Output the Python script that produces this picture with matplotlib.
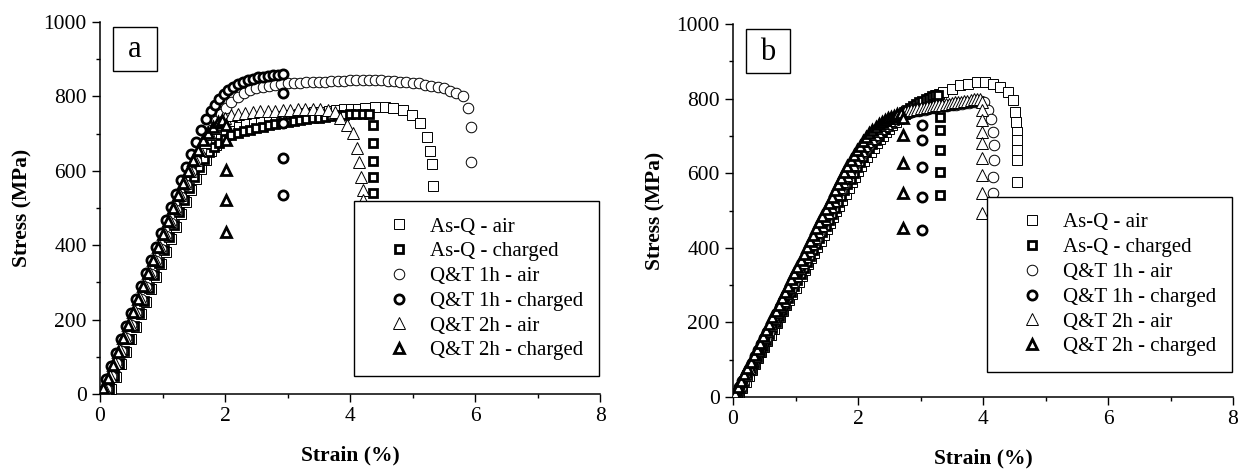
import matplotlib
matplotlib.use("Agg")
import matplotlib.pyplot as plt
import matplotlib.patches as mpatches
from matplotlib.ticker import MultipleLocator

plt.rcParams.update({
    "font.family": "serif",
    "font.serif": ["Liberation Serif", "Times New Roman", "DejaVu Serif"],
    "font.size": 15,
    "axes.linewidth": 1.1,
    "xtick.direction": "out",
    "ytick.direction": "out",
    "xtick.major.size": 6,
    "ytick.major.size": 6,
    "xtick.minor.size": 3,
    "ytick.minor.size": 3,
    "xtick.major.width": 1.0,
    "ytick.major.width": 1.0,
    "xtick.minor.width": 1.0,
    "ytick.minor.width": 1.0,
})

labels = ["As-Q - air", "As-Q - charged", "Q&T 1h - air",
          "Q&T 1h - charged", "Q&T 2h - air", "Q&T 2h - charged"]

# ---------------- panel a ----------------
a_asq_air_strain = [0.18, 0.26, 0.34, 0.42, 0.50, 0.58, 0.66, 0.74, 0.82, 0.90, 0.98, 1.06, 1.14, 1.22,
                    1.30, 1.38, 1.46, 1.54, 1.62, 1.70, 1.78, 1.86, 1.94, 2.02, 2.12, 2.22, 2.34, 2.46,
                    2.58, 2.70, 2.82, 2.94, 3.06, 3.18, 3.30, 3.42, 3.54, 3.66, 3.78, 3.90, 4.02, 4.12,
                    4.24, 4.40, 4.56, 4.69, 4.85, 4.99, 5.12, 5.23, 5.28, 5.31, 5.33]
a_asq_air_stress = [13, 46, 80, 113, 147, 181, 214, 248, 281, 315, 349, 382, 416, 449,
                    483, 516, 548, 578, 606, 630, 652, 670, 685, 697, 708, 717, 725, 731,
                    736, 740, 744, 747, 750, 753, 755, 757, 759, 761, 763, 765, 766, 767,
                    769, 771, 771, 769, 763, 750, 728, 690, 653, 618, 559]

a_asq_ch_strain = [0.15, 0.23, 0.31, 0.39, 0.47, 0.55, 0.63, 0.71, 0.79, 0.87, 0.95, 1.03, 1.11, 1.19,
                   1.27, 1.35, 1.43, 1.51, 1.59, 1.67, 1.75, 1.83, 1.91, 2.00, 2.10, 2.20, 2.30, 2.40,
                   2.50, 2.60, 2.70, 2.80, 2.90, 3.00, 3.10, 3.20, 3.30, 3.40, 3.50, 3.60, 3.70, 3.80,
                   3.90, 4.00, 4.10, 4.20, 4.30, 4.37, 4.37, 4.37, 4.37, 4.37]
a_asq_ch_stress = [13, 47, 81, 115, 149, 183, 217, 251, 285, 319, 353, 387, 421, 455,
                   489, 522, 554, 584, 610, 633, 651, 665, 676, 686, 695, 702, 707, 711,
                   715, 719, 723, 726, 729, 732, 735, 737, 739, 741, 743, 745, 747, 749,
                   751, 752, 753, 753, 754, 723, 675, 626, 583, 540]

a_qt1_air_strain = [0.10, 0.18, 0.26, 0.34, 0.42, 0.50, 0.58, 0.66, 0.74, 0.82, 0.90, 0.98, 1.06, 1.14,
                    1.22, 1.30, 1.38, 1.46, 1.54, 1.62, 1.70, 1.78, 1.86, 1.94, 2.02, 2.10, 2.20, 2.30,
                    2.40, 2.50, 2.60, 2.70, 2.80, 2.90, 3.00, 3.10, 3.20, 3.30, 3.40, 3.50, 3.60, 3.70,
                    3.80, 3.90, 4.00, 4.10, 4.20, 4.30, 4.40, 4.50, 4.60, 4.70, 4.80, 4.90, 5.00, 5.10,
                    5.20, 5.30, 5.40, 5.50, 5.60, 5.70, 5.80, 5.89, 5.93, 5.93, 5.95]
a_qt1_air_stress = [13, 47, 82, 116, 151, 185, 219, 254, 288, 323, 357, 391, 426, 460,
                    495, 529, 563, 596, 627, 656, 684, 710, 733, 753, 770, 784, 798, 808,
                    816, 822, 826, 829, 831, 833, 835, 836, 837, 838, 839, 840, 840, 841,
                    842, 842, 843, 843, 843, 843, 843, 843, 842, 841, 840, 839, 837, 835,
                    832, 829, 826, 822, 815, 808, 800, 768, 718, 624, 500]

a_qt1_ch_strain = [0.03, 0.10, 0.18, 0.26, 0.34, 0.42, 0.50, 0.58, 0.66, 0.74, 0.82, 0.90, 0.98, 1.06,
                   1.14, 1.22, 1.30, 1.38, 1.46, 1.54, 1.62, 1.70, 1.77, 1.84, 1.91, 1.98, 2.05, 2.12,
                   2.20, 2.28, 2.36, 2.44, 2.52, 2.60, 2.68, 2.76, 2.84, 2.92, 2.93, 2.93, 2.93, 2.93]
a_qt1_ch_stress = [9, 40, 76, 111, 147, 182, 218, 254, 289, 325, 360, 396, 432, 467,
                   503, 538, 574, 610, 645, 678, 710, 738, 760, 778, 793, 806, 816, 825,
                   833, 839, 844, 848, 851, 853, 855, 857, 858, 859, 809, 728, 634, 535]

a_qt2_air_strain = [0.08, 0.16, 0.24, 0.32, 0.40, 0.48, 0.56, 0.64, 0.72, 0.80, 0.88, 0.96, 1.04, 1.12,
                    1.20, 1.28, 1.36, 1.44, 1.52, 1.60, 1.68, 1.76, 1.84, 1.92, 2.00, 2.10, 2.20, 2.32,
                    2.44, 2.56, 2.68, 2.80, 2.92, 3.04, 3.16, 3.28, 3.40, 3.52, 3.64, 3.76, 3.84, 3.95,
                    4.05, 4.11, 4.14, 4.17, 4.20, 4.21]
a_qt2_air_stress = [13, 48, 83, 117, 152, 187, 222, 257, 291, 326, 361, 396, 431, 465,
                    500, 535, 568, 600, 628, 655, 678, 698, 716, 731, 742, 749, 753, 756,
                    758, 760, 761, 762, 763, 764, 765, 766, 766, 766, 764, 758, 742, 723,
                    701, 661, 624, 583, 548, 521]

a_qt2_ch_strain = [0.05, 0.12, 0.20, 0.28, 0.36, 0.44, 0.52, 0.60, 0.68, 0.76, 0.84, 0.92, 1.00, 1.08,
                   1.16, 1.24, 1.32, 1.40, 1.48, 1.56, 1.64, 1.72, 1.80, 1.88, 1.95, 2.02, 2.02, 2.02,
                   2.02, 2.02]
a_qt2_ch_stress = [15, 44, 79, 114, 150, 185, 220, 255, 290, 326, 361, 396, 431, 466,
                   500, 535, 568, 600, 630, 657, 682, 702, 718, 730, 737, 722, 683, 602,
                   521, 435]

# ---------------- panel b ----------------
b_asq_air_strain = [0.10, 0.15, 0.20, 0.25, 0.30, 0.35, 0.40, 0.45, 0.50, 0.55, 0.60, 0.65, 0.70, 0.75,
                    0.80, 0.85, 0.90, 0.95, 1.00, 1.05, 1.10, 1.15, 1.20, 1.25, 1.30, 1.35, 1.40, 1.45,
                    1.50, 1.55, 1.60, 1.65, 1.70, 1.75, 1.80, 1.85, 1.90, 1.95, 2.00, 2.05, 2.10, 2.15,
                    2.20, 2.25, 2.30, 2.35, 2.40, 2.45, 2.50, 2.55, 2.60, 2.65, 2.70, 2.75, 2.80, 2.85,
                    2.90, 2.95, 3.00, 3.05, 3.10, 3.15, 3.20, 3.25, 3.30, 3.36, 3.50, 3.63, 3.76, 3.90,
                    4.03, 4.16, 4.27, 4.40, 4.48, 4.51, 4.53, 4.54, 4.54, 4.54, 4.54, 4.55]
b_asq_air_stress = [9, 25, 41, 57, 72, 88, 104, 120, 135, 151, 167, 183, 198, 214,
                    230, 246, 261, 277, 293, 309, 324, 340, 356, 372, 387, 403, 419, 435,
                    450, 466, 482, 498, 513, 529, 545, 561, 576, 591, 605, 619, 632, 645,
                    657, 669, 680, 691, 701, 711, 720, 729, 737, 745, 752, 759, 765, 771,
                    777, 782, 787, 792, 797, 801, 805, 809, 813, 818, 826, 836, 839, 845,
                    845, 839, 831, 818, 796, 764, 737, 710, 689, 662, 635, 576]

b_asq_ch_strain = [0.08, 0.13, 0.18, 0.23, 0.28, 0.33, 0.38, 0.43, 0.48, 0.53, 0.58, 0.63, 0.68, 0.73,
                   0.78, 0.83, 0.88, 0.93, 0.98, 1.03, 1.08, 1.13, 1.18, 1.23, 1.28, 1.33, 1.38, 1.43,
                   1.48, 1.53, 1.58, 1.63, 1.68, 1.73, 1.78, 1.83, 1.88, 1.93, 1.98, 2.03, 2.08, 2.13,
                   2.18, 2.23, 2.28, 2.33, 2.38, 2.43, 2.48, 2.53, 2.58, 2.63, 2.68, 2.73, 2.78, 2.83,
                   2.88, 2.93, 2.98, 3.03, 3.08, 3.13, 3.18, 3.23, 3.28, 3.31, 3.31, 3.31, 3.31, 3.31]
b_asq_ch_stress = [10, 26, 42, 58, 74, 90, 106, 122, 138, 154, 170, 186, 202, 218,
                   234, 250, 266, 282, 298, 314, 330, 346, 362, 378, 394, 410, 426, 442,
                   458, 474, 490, 506, 522, 538, 554, 570, 586, 601, 616, 630, 643, 656,
                   668, 679, 690, 700, 710, 719, 728, 736, 744, 751, 758, 764, 770, 776,
                   781, 786, 791, 795, 799, 803, 806, 809, 811, 751, 716, 662, 603, 542]

b_qt1_air_strain = [0.07, 0.12, 0.17, 0.22, 0.27, 0.32, 0.37, 0.42, 0.47, 0.52, 0.57, 0.62, 0.67, 0.72,
                    0.77, 0.82, 0.87, 0.92, 0.97, 1.02, 1.07, 1.12, 1.17, 1.22, 1.27, 1.32, 1.37, 1.42,
                    1.47, 1.52, 1.57, 1.62, 1.67, 1.72, 1.77, 1.82, 1.87, 1.92, 1.97, 2.02, 2.07, 2.12,
                    2.17, 2.22, 2.27, 2.32, 2.37, 2.42, 2.47, 2.52, 2.57, 2.62, 2.67, 2.72, 2.77, 2.82,
                    2.87, 2.92, 2.97, 3.02, 3.07, 3.12, 3.17, 3.22, 3.27, 3.32, 3.37, 3.42, 3.47, 3.52,
                    3.57, 3.62, 3.67, 3.72, 3.77, 3.82, 3.87, 3.92, 3.97, 4.02, 4.08, 4.13, 4.16, 4.17,
                    4.17, 4.16, 4.16, 4.16]
b_qt1_air_stress = [10, 26, 43, 59, 76, 92, 109, 125, 142, 158, 175, 191, 208, 224,
                    241, 257, 274, 290, 307, 323, 340, 356, 373, 389, 406, 422, 439, 455,
                    472, 488, 505, 521, 538, 554, 570, 585, 600, 614, 628, 641, 653, 665,
                    676, 686, 696, 705, 713, 721, 728, 735, 741, 747, 752, 756, 759, 762,
                    764, 766, 768, 770, 771, 773, 774, 776, 777, 778, 780, 781, 782, 783,
                    784, 786, 787, 788, 789, 790, 791, 792, 793, 790, 770, 745, 710, 675,
                    635, 590, 547, 500]

b_qt1_ch_strain = [0.05, 0.10, 0.15, 0.20, 0.25, 0.30, 0.35, 0.40, 0.45, 0.50, 0.55, 0.60, 0.65, 0.70,
                   0.75, 0.80, 0.85, 0.90, 0.95, 1.00, 1.05, 1.10, 1.15, 1.20, 1.25, 1.30, 1.35, 1.40,
                   1.45, 1.50, 1.55, 1.60, 1.65, 1.70, 1.75, 1.80, 1.85, 1.90, 1.95, 2.00, 2.05, 2.10,
                   2.15, 2.20, 2.25, 2.30, 2.35, 2.40, 2.45, 2.50, 2.55, 2.60, 2.65, 2.70, 2.75, 2.80,
                   2.85, 2.90, 2.95, 3.02, 3.02, 3.02, 3.02, 3.02]
b_qt1_ch_stress = [10, 26, 43, 59, 76, 92, 109, 125, 142, 158, 175, 191, 208, 224,
                   241, 257, 274, 290, 307, 323, 340, 356, 373, 389, 406, 422, 439, 455,
                   472, 488, 505, 521, 538, 554, 571, 586, 601, 615, 629, 642, 654, 666,
                   677, 687, 697, 706, 714, 722, 729, 736, 742, 748, 753, 757, 761, 765,
                   768, 771, 774, 729, 689, 617, 536, 448]

b_qt2_air_strain = [0.05, 0.10, 0.15, 0.20, 0.25, 0.30, 0.35, 0.40, 0.45, 0.50, 0.55, 0.60, 0.65, 0.70,
                    0.75, 0.80, 0.85, 0.90, 0.95, 1.00, 1.05, 1.10, 1.15, 1.20, 1.25, 1.30, 1.35, 1.40,
                    1.45, 1.50, 1.55, 1.60, 1.65, 1.70, 1.75, 1.80, 1.85, 1.90, 1.95, 2.00, 2.05, 2.10,
                    2.15, 2.20, 2.25, 2.30, 2.35, 2.40, 2.45, 2.50, 2.55, 2.60, 2.65, 2.70, 2.75, 2.80,
                    2.85, 2.90, 2.95, 3.00, 3.05, 3.10, 3.15, 3.20, 3.25, 3.30, 3.35, 3.40, 3.45, 3.50,
                    3.55, 3.60, 3.65, 3.70, 3.75, 3.80, 3.85, 3.90, 3.95, 3.98, 3.98, 3.98, 3.98, 3.98,
                    3.98, 3.98, 3.98, 3.98]
b_qt2_air_stress = [10, 27, 44, 60, 77, 94, 111, 127, 144, 161, 178, 194, 211, 228,
                    245, 261, 278, 295, 312, 328, 345, 362, 379, 395, 412, 429, 446, 462,
                    479, 496, 513, 529, 546, 563, 579, 595, 610, 624, 638, 651, 663, 675,
                    686, 696, 705, 714, 722, 729, 736, 742, 748, 753, 758, 762, 765, 767,
                    769, 771, 773, 774, 776, 777, 779, 780, 782, 783, 784, 786, 787, 788,
                    790, 791, 792, 794, 795, 796, 798, 799, 800, 791, 769, 743, 710, 681,
                    641, 595, 547, 493]

b_qt2_ch_strain = [0.03, 0.08, 0.13, 0.18, 0.23, 0.28, 0.33, 0.38, 0.43, 0.48, 0.53, 0.58, 0.63, 0.68,
                   0.73, 0.78, 0.83, 0.88, 0.93, 0.98, 1.03, 1.08, 1.13, 1.18, 1.23, 1.28, 1.33, 1.38,
                   1.43, 1.48, 1.53, 1.58, 1.63, 1.68, 1.73, 1.78, 1.83, 1.88, 1.93, 1.98, 2.03, 2.08,
                   2.13, 2.18, 2.23, 2.28, 2.33, 2.38, 2.43, 2.48, 2.53, 2.58, 2.63, 2.68, 2.72, 2.72,
                   2.72, 2.72, 2.72]
b_qt2_ch_stress = [10, 27, 44, 61, 78, 95, 112, 129, 146, 163, 180, 197, 214, 231,
                   248, 265, 282, 299, 316, 333, 350, 367, 384, 401, 418, 435, 452, 469,
                   486, 503, 520, 537, 554, 571, 588, 604, 620, 635, 649, 662, 674, 686,
                   697, 707, 716, 724, 731, 737, 742, 747, 751, 755, 758, 761, 748, 702,
                   628, 547, 453]

panel_a = [(a_asq_air_strain, a_asq_air_stress), (a_asq_ch_strain, a_asq_ch_stress),
           (a_qt1_air_strain, a_qt1_air_stress), (a_qt1_ch_strain, a_qt1_ch_stress),
           (a_qt2_air_strain, a_qt2_air_stress), (a_qt2_ch_strain, a_qt2_ch_stress)]
panel_b = [(b_asq_air_strain, b_asq_air_stress), (b_asq_ch_strain, b_asq_ch_stress),
           (b_qt1_air_strain, b_qt1_air_stress), (b_qt1_ch_strain, b_qt1_ch_stress),
           (b_qt2_air_strain, b_qt2_air_stress), (b_qt2_ch_strain, b_qt2_ch_stress)]

# marker, size, edge width for each series (air = thin, charged = bold)
styles = [("s", 7.0, 0.7), ("s", 6.2, 2.0),
          ("o", 7.6, 0.7), ("o", 6.6, 2.0),
          ("^", 8.2, 0.7), ("^", 7.0, 2.0)]

fig = plt.figure(figsize=(12.46, 4.69), dpi=100)
ax_a = fig.add_axes([0.0803, 0.160, 0.4013, 0.793])
ax_b = fig.add_axes([0.5883, 0.1535, 0.4013, 0.795])

for ax, data, tag in [(ax_a, panel_a, "a"), (ax_b, panel_b, "b")]:
    for i, ((x, y), (m, ms, lw), lab) in enumerate(zip(data, styles, labels)):
        ax.plot(x, y, linestyle="none", marker=m, markersize=ms,
                markerfacecolor="white", markeredgecolor="black",
                markeredgewidth=lw, label=lab, zorder=3 + i)

    ax.set_xlim(0, 8)
    ax.set_ylim(0, 1000)
    ax.xaxis.set_major_locator(MultipleLocator(2))
    ax.xaxis.set_minor_locator(MultipleLocator(1))
    ax.yaxis.set_major_locator(MultipleLocator(200))
    ax.yaxis.set_minor_locator(MultipleLocator(100))
    ax.spines["top"].set_visible(False)
    ax.spines["right"].set_visible(False)
    ax.tick_params(labelsize=15.5)
    ax.set_xlabel("Strain (%)", fontsize=15.5, fontweight="bold", labelpad=14)
    ax.set_ylabel("Stress (MPa)", fontsize=15.5, fontweight="bold", labelpad=8)

    # panel tag in a square box
    ax.add_patch(mpatches.Rectangle((0.025, 0.868), 0.088, 0.118, transform=ax.transAxes,
                                    facecolor="white", edgecolor="black", linewidth=1.0,
                                    zorder=20, clip_on=False))
    ax.text(0.069, 0.925, tag, transform=ax.transAxes, fontsize=22,
            ha="center", va="center", zorder=21)

    leg = ax.legend(loc="lower right", bbox_to_anchor=(0.998, 0.048 if tag == "a" else 0.067),
                    borderaxespad=0, fontsize=15, frameon=True, fancybox=False,
                    edgecolor="black", framealpha=1, handlelength=2.8,
                    handletextpad=0.1, borderpad=0.75, labelspacing=0.25)
    leg.get_frame().set_linewidth(1.0)
    leg.set_zorder(30)

fig.savefig("out.png", dpi=100)
